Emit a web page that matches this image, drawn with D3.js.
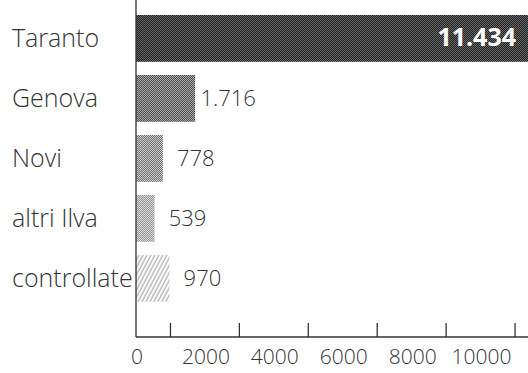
<!DOCTYPE html>
<head>
  <meta charset="utf-8">
  <style>
  body { margin: 0; background: #fff; }
  text { font-family: "Open Sans", sans-serif; fill: #333; }
  .cat { font-size: 25px; font-weight: 300; }
  .val { font-size: 22px; font-weight: 300; }
  .tick text { font-size: 21px; font-weight: 300; }
  .axis line { stroke: #333; stroke-width: 1.3px; }
  </style>
  <script src="https://d3js.org/d3.v7.min.js"></script>
</head>

<body>
  <svg width="528" height="373"></svg>

  <script>

  var categories = ["Taranto", "Genova", "Novi", "altri Ilva", "controllate"];
  var values = [11434, 1716, 778, 539, 970];
  var valueLabels = ["11.434", "1.716", "778", "539", "970"];
  var tickLabels = [0, 2000, 4000, 6000, 8000, 10000];
  var tickMarks = [1000, 3000, 5000, 7000, 9000, 11000];

  var svg = d3.select("svg");

  var x = d3.scaleLinear().domain([0, 11434]).range([136, 530]);
  var y = d3.scaleBand().domain(categories).range([8.4, 308.4])
    .paddingInner(0.22).paddingOuter(0.11);
  var axisY = 337;

  // fill patterns, dithered greys like the print original
  var defs = svg.append("defs");
  var checks = [
    { id: "p0", a: "#1e1e1e", b: "#6a6a6a" },
    { id: "p1", a: "#505050", b: "#a8a8a8" },
    { id: "p2", a: "#6e6e6e", b: "#cfcfcf" },
    { id: "p3", a: "#909090", b: "#e0e0e0" }
  ];
  checks.forEach(function(c) {
    var p = defs.append("pattern").attr("id", c.id)
      .attr("patternUnits", "userSpaceOnUse").attr("width", 2).attr("height", 2);
    p.append("rect").attr("width", 2).attr("height", 2).attr("fill", c.a);
    p.append("rect").attr("width", 1).attr("height", 1).attr("fill", c.b);
    p.append("rect").attr("x", 1).attr("y", 1).attr("width", 1).attr("height", 1).attr("fill", c.b);
  });
  var hatch = defs.append("pattern").attr("id", "p4")
    .attr("patternUnits", "userSpaceOnUse").attr("width", 3.5).attr("height", 3.5)
    .attr("patternTransform", "rotate(28)");
  hatch.append("rect").attr("width", 3.5).attr("height", 3.5).attr("fill", "#fff");
  hatch.append("line").attr("x1", 1).attr("y1", 0).attr("x2", 1).attr("y2", 3.5)
    .attr("stroke", "#999").attr("stroke-width", 1);

  svg.append("g").selectAll("rect")
    .data(values)
    .enter().append("rect")
    .attr("x", x(0))
    .attr("y", function(d, i) { return y(categories[i]); })
    .attr("width", function(d) { return x(d) - x(0); })
    .attr("height", y.bandwidth())
    .attr("fill", function(d, i) { return "url(#p" + i + ")"; });

  // category names
  svg.append("g").selectAll("text")
    .data(categories)
    .enter().append("text")
    .attr("class", "cat")
    .attr("x", 12)
    .attr("y", function(d) { return y(d) + y.bandwidth() / 2 + 8.5; })
    .text(function(d) { return d; });

  // value labels
  svg.append("g").selectAll("text")
    .data(values)
    .enter().append("text")
    .attr("class", "val")
    .attr("text-anchor", function(d, i) { return i == 0 ? "end" : "middle"; })
    .attr("x", function(d, i) { return i == 0 ? 516 : x(d) + 33; })
    .attr("y", function(d, i) { return y(categories[i]) + y.bandwidth() / 2 + 8; })
    .style("fill", function(d, i) { return i == 0 ? "#fff" : null; })
    .style("font-weight", function(d, i) { return i == 0 ? 700 : null; })
    .style("font-size", function(d, i) { return i == 0 ? "25px" : null; })
    .text(function(d, i) { return valueLabels[i]; });

  // axes
  var ax = svg.append("g").attr("class", "axis");
  ax.append("line").attr("x1", x(0)).attr("x2", x(0)).attr("y1", 0).attr("y2", axisY);
  ax.append("line").attr("x1", x(0)).attr("x2", 528).attr("y1", axisY).attr("y2", axisY);
  ax.selectAll(".tm")
    .data(tickMarks)
    .enter().append("line")
    .attr("class", "tm")
    .attr("x1", function(d) { return x(d); })
    .attr("x2", function(d) { return x(d); })
    .attr("y1", axisY - 14)
    .attr("y2", axisY);

  var tl = ax.selectAll(".tick")
    .data(tickLabels)
    .enter().append("g")
    .attr("class", "tick");
  tl.append("text")
    .attr("text-anchor", "middle")
    .attr("x", function(d) { return x(d) + 1; })
    .attr("y", 364)
    .text(function(d) { return d; });

  </script>
</body>
